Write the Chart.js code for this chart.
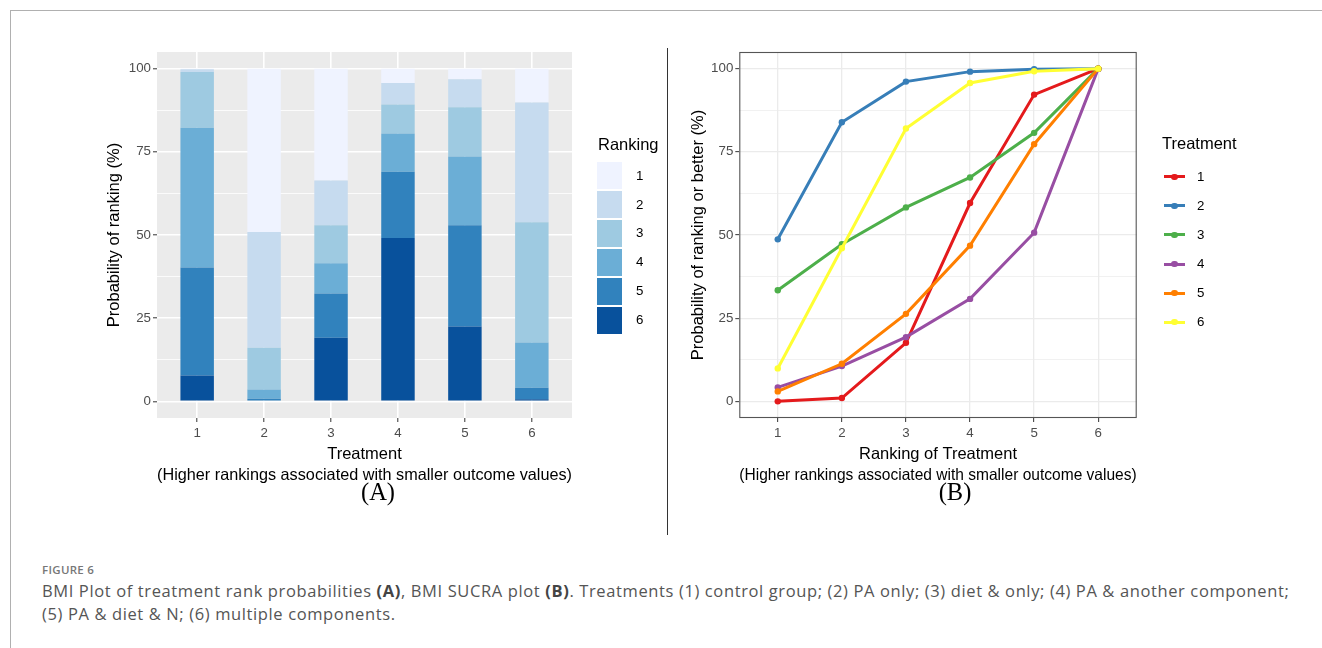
<!DOCTYPE html>
<html>
<head>
<meta charset="utf-8">
<script src="https://cdn.jsdelivr.net/npm/chart.js@4.4.1/dist/chart.umd.min.js"></script>
<style>
  html, body { margin:0; padding:0; background:#fff; }
  body { width:1322px; height:648px; position:relative; overflow:hidden; font-family:'Liberation Sans', Arial, sans-serif; }
  .abs { position:absolute; }
  #frameTop { left:10px; top:10px; width:1312px; height:0; border-top:1.5px solid #b0b0b0; }
  #frameLeft { left:10px; top:10px; width:0; height:638px; border-left:1.5px solid #b0b0b0; }
  #divider { left:667px; top:48px; width:0; height:487px; border-left:1.6px solid #333; }
  #cA { left:0; top:0; }
  #cB { left:668px; top:0; }
  .panelLabel { font-family:'Liberation Serif', 'Times New Roman', serif; font-size:24.5px; color:#000; transform:translate(-50%,-50%); white-space:nowrap; }
  .legTitle { font-size:16.5px; color:#000; white-space:nowrap; }
  .legText { font-size:13.3px; color:#000; white-space:nowrap; }
  .fig { font-family:'Open Sans', 'Noto Sans', sans-serif; font-size:11.5px; font-weight:600; color:#777; letter-spacing:0.3px; }
  .cap { font-family:'Open Sans', 'Noto Sans', sans-serif; font-size:16.5px; letter-spacing:0.62px; color:#555; line-height:23px; white-space:nowrap; }
  .cap b { font-weight:700; color:#444; }
</style>
</head>
<body>
<div id="frameTop" class="abs"></div>
<div id="frameLeft" class="abs"></div>
<canvas id="cA" class="abs" width="668" height="520"></canvas>
<canvas id="cB" class="abs" width="654" height="520"></canvas>
<div id="divider" class="abs"></div>
<div class="abs panelLabel" style="left:378px; top:492px;">(A)</div>
<div class="abs panelLabel" style="left:955px; top:492px;">(B)</div>
<div id="legA"></div>
<div id="legB"></div>
<div class="abs fig" style="left:42px; top:562px;">FIGURE 6</div>
<div class="abs cap" style="left:42px; top:579px;">BMI Plot of treatment rank probabilities <b>(A)</b>, BMI SUCRA plot <b>(B)</b>. Treatments (1) control group; (2) PA only; (3) diet &amp; only; (4) PA &amp; another component;<br>(5) PA &amp; diet &amp; N; (6) multiple components.</div>

<script>
// ---------- DATA ----------
const treatments = ['1', '2', '3', '4', '5', '6'];
const rankLabels = ['1', '2', '3', '4', '5', '6'];
const xTickValues = [1, 2, 3, 4, 5, 6];
const yTickValues = [0, 25, 50, 75, 100];
const yMinorValues = [12.5, 37.5, 62.5, 87.5];

// Panel A: probability (%) of each ranking, per treatment 1..6
const rank1 = [0.2, 49.1, 33.6, 4.3, 3.2, 10.2];
const rank2 = [0.8, 34.8, 13.5, 6.5, 8.4, 36.0];
const rank3 = [16.8, 12.5, 11.4, 8.7, 14.8, 36.1];
const rank4 = [42.0, 2.8, 9.1, 11.5, 20.7, 13.6];
const rank5 = [32.4, 0.8, 13.3, 19.9, 30.4, 3.5];
const rank6 = [7.8, 0.0, 19.1, 49.1, 22.5, 0.6];

// Panel B: probability (%) of ranking or better, per ranking 1..6
const sucra1 = [0.0, 1.0, 17.6, 59.6, 92.2, 100];
const sucra2 = [48.7, 83.9, 96.1, 99.1, 99.8, 100];
const sucra3 = [33.4, 47.2, 58.3, 67.3, 80.7, 100];
const sucra4 = [4.2, 10.6, 19.3, 30.8, 50.7, 100];
const sucra5 = [3.0, 11.3, 26.3, 46.8, 77.3, 100];
const sucra6 = [9.9, 46.0, 82.0, 95.7, 99.2, 100];

// ---------- STYLE ----------
const blues = ['#EFF3FF', '#C6DBEF', '#9ECAE1', '#6BAED6', '#3182BD', '#08519C'];
const set1 = ['#E41A1C', '#377EB8', '#4DAF4A', '#984EA3', '#FF7F00', '#FFFF33'];
const FONT = "'Liberation Sans', Arial, sans-serif";
const TICK_FONT = { family: FONT, size: 13.3 };
const TITLE_FONT = { family: FONT, size: 16.5, lineHeight: 1.25 };

Chart.defaults.color = '#4D4D4D';
Chart.defaults.font.family = FONT;

const allY = yTickValues.concat(yMinorValues).sort((a, b) => a - b);
const isMajorY = v => yTickValues.indexOf(v) !== -1;

const panelBg = {
  id: 'panelBg',
  beforeDraw(chart, args, opts) {
    const { ctx, chartArea: a } = chart;
    ctx.save();
    ctx.fillStyle = opts.color || '#EBEBEB';
    ctx.fillRect(a.left, a.top, a.right - a.left, a.bottom - a.top);
    ctx.restore();
  }
};
const panelBorder = {
  id: 'panelBorder',
  afterDraw(chart, args, opts) {
    if (!opts.show) return;
    const { ctx, chartArea: a } = chart;
    ctx.save();
    ctx.strokeStyle = opts.color || '#333';
    ctx.lineWidth = opts.width || 1;
    ctx.strokeRect(a.left + 0.5, a.top + 0.5, a.right - a.left - 1, a.bottom - a.top - 1);
    ctx.restore();
  }
};

function xScale(titleLines, gridColor, gridWidth) {
  return {
    type: 'linear', min: 0.4, max: 6.6, offset: false, stacked: true,
    afterBuildTicks: s => { s.ticks = xTickValues.map(v => ({ value: v })); },
    afterFit: s => { s.height = 102; },
    ticks: { font: TICK_FONT, color: '#4D4D4D', padding: 3, maxRotation: 0, autoSkip: false,
             callback: v => treatments[xTickValues.indexOf(v)] },
    grid: { offset: false, color: gridColor, lineWidth: gridWidth, tickColor: '#333', tickLength: 4, tickWidth: 1 },
    border: { display: false },
    title: { display: true, text: titleLines, font: TITLE_FONT, color: '#000', padding: { top: 0, bottom: 34.6 } }
  };
}
function yScale(titleText, titlePadTop, gridColor, majorW, minorW) {
  return {
    type: 'linear', min: -5, max: 105, stacked: true,
    afterBuildTicks: s => { s.ticks = allY.map(v => ({ value: v })); },
    afterFit: s => { s.width = s.chart.canvas.id === 'cA' ? 157 : 71.3; },
    ticks: { font: TICK_FONT, color: '#4D4D4D', padding: 2, autoSkip: false,
             callback: v => isMajorY(v) ? String(v) : '' },
    grid: {
      color: gridColor,
      lineWidth: c => (c.tick && isMajorY(c.tick.value)) ? majorW : minorW,
      tickColor: c => (c.tick && isMajorY(c.tick.value)) ? '#333' : 'rgba(0,0,0,0)',
      tickLength: 4, tickWidth: 1
    },
    border: { display: false },
    title: { display: true, text: titleText, font: TITLE_FONT, color: '#000', padding: { top: titlePadTop, bottom: 0 } }
  };
}

// ---------- PANEL A ----------
const rankSeries = [rank1, rank2, rank3, rank4, rank5, rank6];
const barDatasets = [];
for (let r = 5; r >= 0; r--) {
  barDatasets.push({
    label: rankLabels[r],
    data: rankSeries[r].map((v, i) => ({ x: xTickValues[i], y: v })),
    backgroundColor: blues[r],
    borderWidth: 0,
    barPercentage: 1.0,
    categoryPercentage: 0.5
  });
}
new Chart(document.getElementById('cA'), {
  type: 'bar',
  data: { datasets: barDatasets },
  options: {
    responsive: false, animation: false,
    layout: { padding: { left: 0, top: 52, right: 96, bottom: 0 } },
    plugins: { legend: { display: false }, tooltip: { enabled: false }, panelBg: { color: '#EBEBEB' }, panelBorder: { show: false } },
    scales: {
      x: xScale(['Treatment', '(Higher rankings associated with smaller outcome values)'], '#FFFFFF', 1.6),
      y: yScale('Probability of ranking (%)', 104.6, '#FFFFFF', 1.6, 0.8)
    }
  },
  plugins: [panelBg, panelBorder]
});

// ---------- PANEL B ----------
const sucraSeries = [sucra1, sucra2, sucra3, sucra4, sucra5, sucra6];
const lineDatasets = sucraSeries.map((s, i) => ({
  label: treatments[i],
  data: s.map((v, k) => ({ x: xTickValues[k], y: v })),
  borderColor: set1[i],
  backgroundColor: set1[i],
  pointBackgroundColor: set1[i],
  pointBorderWidth: 0,
  pointRadius: 3.2,
  borderWidth: 3,
  tension: 0,
  order: 6 - i
}));
new Chart(document.getElementById('cB'), {
  type: 'line',
  data: { datasets: lineDatasets },
  options: {
    responsive: false, animation: false,
    layout: { padding: { left: 0, top: 52, right: 185.3, bottom: 0 } },
    plugins: { legend: { display: false }, tooltip: { enabled: false }, panelBg: { color: '#FFFFFF' }, panelBorder: { show: true, color: '#555', width: 1.1 } },
    scales: {
      x: Object.assign(xScale(['Ranking of Treatment', '(Higher rankings associated with smaller outcome values)'], '#EBEBEB', 1.3), { stacked: false }),
      y: Object.assign(yScale('Probability of ranking or better (%)', 19.9, '#EBEBEB', 1.3, 0.7), { stacked: false })
    }
  },
  plugins: [panelBg, panelBorder]
});

// ---------- LEGENDS (HTML) ----------
(function () {
  const la = document.getElementById('legA');
  let h = '<div class="abs legTitle" style="left:598px; top:135px;">Ranking</div>';
  rankLabels.forEach((lab, i) => {
    const top = 162 + i * 28.9;
    h += '<div class="abs" style="left:597px; top:' + top + 'px; width:25px; height:27.3px; background:' + blues[i] + ';"></div>';
    h += '<div class="abs legText" style="left:636px; top:' + (top + 13.6 - 8) + 'px; line-height:16px;">' + lab + '</div>';
  });
  la.innerHTML = h;

  const lb = document.getElementById('legB');
  let g = '<div class="abs legTitle" style="left:1162px; top:134px;">Treatment</div>';
  treatments.forEach((lab, i) => {
    const cy = 176.7 + i * 29.1;
    g += '<div class="abs" style="left:1164px; top:' + (cy - 1.5) + 'px; width:21px; height:3px; background:' + set1[i] + ';"></div>';
    g += '<div class="abs" style="left:' + (1174.5 - 3.2) + 'px; top:' + (cy - 3.2) + 'px; width:6.4px; height:6.4px; border-radius:50%; background:' + set1[i] + ';"></div>';
    g += '<div class="abs legText" style="left:1197px; top:' + (cy - 8) + 'px; line-height:16px;">' + lab + '</div>';
  });
  lb.innerHTML = g;
})();
</script>
</body>
</html>
